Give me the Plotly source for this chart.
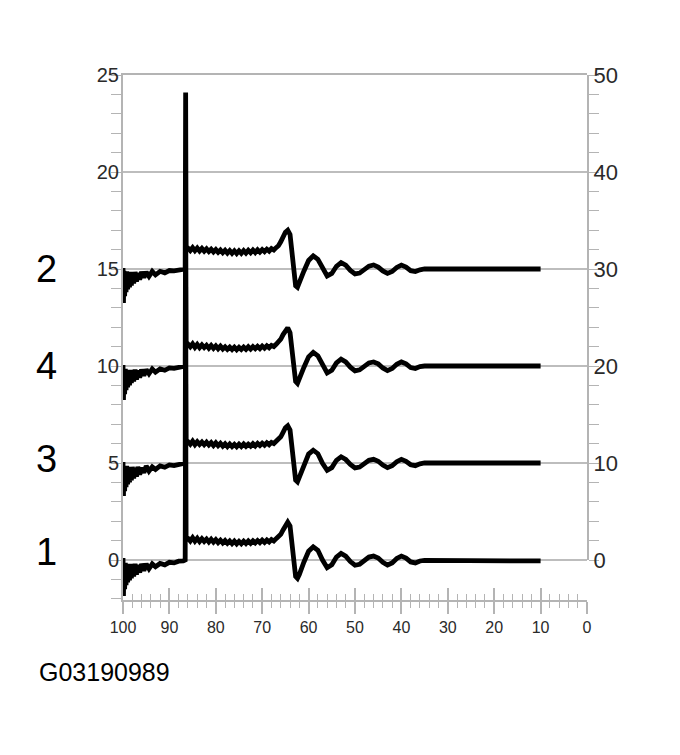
import plotly.graph_objects as go

# ---------------- data ----------------
# shared time axis (percent of display, reversed: 100 at left, 0 at right)
X_PTS = [
    100.0, 99.9, 99.8, 99.65, 99.5, 99.35, 99.2, 99.0, 98.8, 98.6,
    98.4, 98.2, 98.0, 97.7, 97.4, 97.1, 96.8, 96.4, 96.0, 95.5,
    95.0, 94.4, 93.7, 93.0, 92.0, 91.0, 90.0, 89.0, 88.0, 87.0, 86.6,
    86.5, 86.4,
    86.0, 85.5, 85.0, 84.5, 84.0, 83.5, 83.0, 82.5, 82.0, 81.5,
    81.0, 80.5, 80.0, 79.5, 79.0, 78.5, 78.0, 77.5, 77.0, 76.5,
    76.0, 75.5, 75.0, 74.5, 74.0, 73.5, 73.0, 72.5, 72.0, 71.5,
    71.0, 70.5, 70.0, 69.5, 69.0, 68.5, 68.0, 67.5, 67.0,
    66.5, 66.0, 65.5, 65.0, 64.5, 64.0, 63.6, 63.2, 62.8, 62.4,
    62.0, 61.0, 60.0, 59.0, 58.0, 57.0, 56.0, 55.0, 54.0, 53.0,
    52.0, 51.0, 50.0, 49.0, 48.0, 47.0, 46.0, 45.0, 44.0, 43.0,
    42.0, 41.0, 40.0, 39.0, 38.0, 37.0, 36.0, 35.0, 10.0,
]

# cylinder waveforms (kV relative to each trace's baseline)
WAVE_1 = [
    0.10, -1.85, -0.20, -1.50, -0.15, -1.30, -0.20, -1.15, -0.25, -1.05,
    -0.20, -0.95, -0.25, -0.85, -0.20, -0.75, -0.25, -0.65, -0.20, -0.55,
    -0.20, -0.45, -0.20, -0.35, -0.18, -0.25, -0.12, -0.15, -0.06, -0.05, 0.00,
    9.10, 1.15,
    1.12, 0.98, 1.15, 0.97, 1.12, 0.95, 1.10, 0.96, 1.08, 0.93,
    1.07, 0.92, 1.05, 0.90, 1.02, 0.88, 1.00, 0.86, 0.98, 0.84,
    0.97, 0.83, 0.96, 0.84, 0.97, 0.85, 0.98, 0.86, 0.99, 0.88,
    1.00, 0.89, 1.02, 0.91, 1.03, 0.93, 1.05, 0.98, 1.10,
    1.18, 1.32, 1.55, 1.80, 1.95, 1.75, 0.90, -0.20, -0.85, -0.95,
    -0.75, -0.10, 0.45, 0.68, 0.50, 0.00, -0.40, -0.25, 0.15, 0.34,
    0.20, -0.08, -0.27, -0.22, -0.02, 0.15, 0.20, 0.10, -0.12, -0.26,
    -0.15, 0.08, 0.20, 0.10, -0.10, -0.15, -0.05, -0.02, -0.05,
]
WAVE_3 = [
    0.05, -1.70, -0.15, -1.45, -0.20, -1.25, -0.15, -1.10, -0.20, -1.00,
    -0.25, -0.90, -0.20, -0.80, -0.25, -0.70, -0.20, -0.60, -0.25, -0.50,
    -0.15, -0.42, -0.20, -0.33, -0.15, -0.22, -0.10, -0.13, -0.08, -0.04, 0.00,
    9.10, 1.10,
    1.10, 0.97, 1.13, 0.95, 1.10, 0.96, 1.08, 0.94, 1.07, 0.93,
    1.05, 0.90, 1.04, 0.89, 1.01, 0.87, 0.99, 0.85, 0.98, 0.85,
    0.96, 0.84, 0.97, 0.85, 0.98, 0.86, 0.97, 0.87, 1.00, 0.88,
    1.01, 0.90, 1.02, 0.92, 1.04, 0.94, 1.06, 1.00, 1.12,
    1.20, 1.35, 1.58, 1.82, 1.92, 1.70, 0.85, -0.25, -0.88, -0.97,
    -0.72, -0.08, 0.46, 0.66, 0.48, -0.02, -0.38, -0.24, 0.14, 0.32,
    0.18, -0.07, -0.25, -0.21, -0.03, 0.14, 0.19, 0.09, -0.11, -0.24,
    -0.14, 0.07, 0.19, 0.09, -0.09, -0.14, -0.04, 0.00, 0.00,
]
WAVE_4 = [
    0.05, -1.75, -0.20, -1.45, -0.15, -1.25, -0.25, -1.10, -0.20, -1.00,
    -0.20, -0.88, -0.22, -0.80, -0.18, -0.70, -0.22, -0.60, -0.18, -0.50,
    -0.18, -0.40, -0.15, -0.32, -0.15, -0.22, -0.10, -0.12, -0.06, -0.04, 0.00,
    9.10, 1.12,
    1.13, 0.99, 1.14, 0.96, 1.11, 0.95, 1.09, 0.95, 1.07, 0.92,
    1.06, 0.91, 1.04, 0.89, 1.02, 0.88, 0.99, 0.86, 0.97, 0.85,
    0.97, 0.84, 0.96, 0.85, 0.97, 0.86, 0.99, 0.87, 1.00, 0.89,
    1.01, 0.90, 1.03, 0.92, 1.04, 0.94, 1.06, 1.00, 1.12,
    1.22, 1.38, 1.62, 1.86, 1.97, 1.72, 0.88, -0.18, -0.80, -0.90,
    -0.70, -0.06, 0.47, 0.70, 0.52, 0.02, -0.36, -0.22, 0.16, 0.35,
    0.21, -0.06, -0.25, -0.20, -0.01, 0.16, 0.21, 0.11, -0.10, -0.24,
    -0.13, 0.09, 0.21, 0.11, -0.08, -0.13, -0.03, 0.00, 0.00,
]
WAVE_2 = [
    0.05, -1.75, -0.10, -1.40, -0.15, -1.20, -0.12, -1.05, -0.18, -0.95,
    -0.15, -0.85, -0.20, -0.75, -0.15, -0.65, -0.20, -0.55, -0.15, -0.45,
    -0.15, -0.38, -0.12, -0.30, -0.12, -0.20, -0.08, -0.10, -0.05, -0.03, 0.00,
    9.10, 1.08,
    1.08, 0.95, 1.10, 0.94, 1.08, 0.93, 1.06, 0.92, 1.04, 0.90,
    1.02, 0.88, 1.00, 0.86, 0.98, 0.84, 0.96, 0.82, 0.95, 0.81,
    0.94, 0.80, 0.94, 0.81, 0.95, 0.82, 0.96, 0.84, 0.98, 0.85,
    0.99, 0.87, 1.00, 0.89, 1.02, 0.92, 1.05, 0.98, 1.10,
    1.20, 1.40, 1.65, 1.90, 2.00, 1.78, 0.90, -0.22, -0.86, -0.94,
    -0.74, -0.10, 0.44, 0.68, 0.50, 0.00, -0.36, -0.23, 0.14, 0.33,
    0.20, -0.07, -0.25, -0.21, -0.02, 0.15, 0.21, 0.10, -0.10, -0.23,
    -0.13, 0.08, 0.20, 0.10, -0.09, -0.13, -0.04, 0.00, 0.00,
]

CYLINDERS = ["1", "3", "4", "2"]          # firing order, bottom to top
OFFSETS = [0, 5, 10, 15]                  # display baselines (left axis)
WAVES = [WAVE_1, WAVE_3, WAVE_4, WAVE_2]
FIGURE_ID = "G03190989"

for w in WAVES:
    assert len(w) == len(X_PTS)

# ---------------- style ----------------
AX = "#b4b4b4"
GRID = "#bdbdbd"
TXT = "#2a2a2a"
FONT = "Liberation Sans, Arial, Helvetica, sans-serif"
LABEL_SHIFT = [8, 4, 0, 0]   # px nudge of the cylinder labels

fig = go.Figure()
for name, off, wave in zip(CYLINDERS, OFFSETS, WAVES):
    fig.add_trace(go.Scatter(
        x=X_PTS, y=[v + off for v in wave], mode="lines", name=name,
        line=dict(color="black", width=4.8), hoverinfo="skip",
    ))
# empty traces so the helper axes exist
fig.add_trace(go.Scatter(x=[], y=[], xaxis="x2", yaxis="y", showlegend=False))
fig.add_trace(go.Scatter(x=[], y=[], xaxis="x", yaxis="y2", showlegend=False))

for name, off, sh in zip(CYLINDERS, OFFSETS, LABEL_SHIFT):
    fig.add_annotation(text=name, xref="paper", yref="y", x=-0.164, y=off, yshift=sh,
                       xanchor="center", yanchor="middle", showarrow=False,
                       font=dict(family=FONT, size=38, color="black"))
fig.add_annotation(text=FIGURE_ID, xref="paper", yref="paper", x=-0.185, y=-0.137,
                   xanchor="left", yanchor="middle", showarrow=False,
                   font=dict(family=FONT, size=25, color="black"))

fig.update_layout(
    width=680, height=755,
    margin=dict(l=115, r=101, t=67, b=163),
    paper_bgcolor="white", plot_bgcolor="rgba(0,0,0,0)",
    showlegend=False,
    font=dict(family=FONT, color=TXT),
    xaxis=dict(
        range=[100, 0], anchor="y", tick0=0, dtick=10,
        ticks="outside", ticklen=12, tickwidth=1.5, tickcolor=AX,
        showline=True, linecolor=AX, linewidth=2, mirror=True,
        showgrid=False, zeroline=False,
        tickfont=dict(size=16, color=TXT, family=FONT),
        minor=dict(dtick=2, tick0=0, ticks="outside", ticklen=6, tickwidth=1.2, tickcolor=AX),
    ),
    xaxis2=dict(
        range=[100, 0], overlaying="x", anchor="y", side="bottom", tick0=0, dtick=10,
        ticks="inside", ticklen=12, tickwidth=1.5, tickcolor=AX,
        showticklabels=False, showline=False, showgrid=False, zeroline=False,
        minor=dict(dtick=2, tick0=0, ticks="inside", ticklen=6, tickwidth=1.2, tickcolor=AX),
    ),
    yaxis=dict(
        range=[-2.062, 25], tick0=0, dtick=5,
        ticks="outside", ticklen=10, tickwidth=1.2, tickcolor=AX,
        showline=True, linecolor=AX, linewidth=2,
        showgrid=True, gridcolor=GRID, gridwidth=1.5, zeroline=False,
        tickfont=dict(size=20, color=TXT, family=FONT),
        ticklabelstandoff=-12,
        minor=dict(dtick=1, tick0=0, ticks="outside", ticklen=10, tickwidth=1.2,
                   tickcolor=AX, showgrid=False),
    ),
    yaxis2=dict(
        domain=[0.07619, 1], range=[0, 50], anchor="x", side="right",
        tick0=0, dtick=10, ticks="outside", ticklen=10, tickwidth=1.2, tickcolor=AX,
        showline=True, linecolor=AX, linewidth=2,
        showgrid=False, zeroline=False,
        tickfont=dict(size=22, color=TXT, family=FONT),
        ticklabelstandoff=-10,
        minor=dict(dtick=2, tick0=0, ticks="outside", ticklen=10, tickwidth=1.2, tickcolor=AX),
    ),
)

fig.write_html("out.html")
